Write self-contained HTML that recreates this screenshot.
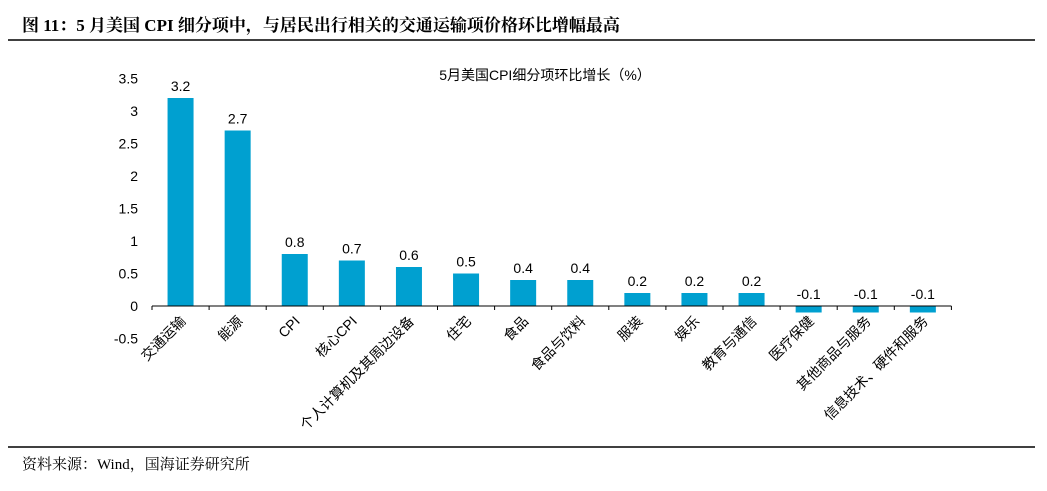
<!DOCTYPE html>
<html><head><meta charset="utf-8"><style>
body{margin:0;background:#fff;width:1047px;height:486px;overflow:hidden}
svg text{font-family:"Liberation Sans","Noto Sans CJK SC",sans-serif}
.serif{font-family:"Liberation Serif","Noto Serif CJK SC",serif}
</style></head><body>
<svg id="chart" width="1047" height="486">
<text class="serif" x="22" y="31" font-size="17" font-weight="bold" fill="#000">图 11：5 月美国 CPI 细分项中，与居民出行相关的交通运输项价格环比增幅最高</text>
<line x1="8" y1="40" x2="1035" y2="40" stroke="#000" stroke-width="1.5"/>
<text x="545" y="80" font-size="14" text-anchor="middle" fill="#000">5月美国CPI细分项环比增长（%）</text>
<g id="yaxis"></g>
<g id="bars"></g>
<line x1="8" y1="447" x2="1035" y2="447" stroke="#000" stroke-width="1.5"/>
<text class="serif" x="22" y="469" font-size="15" fill="#000">资料来源：Wind，国海证券研究所</text>
</svg>
<script>
const categories=["交通运输","能源","CPI","核心CPI","个人计算机及其周边设备","住宅","食品","食品与饮料","服装","娱乐","教育与通信","医疗保健","其他商品与服务","信息技术、硬件和服务"];
const values=[3.2,2.7,0.8,0.7,0.6,0.5,0.4,0.4,0.2,0.2,0.2,-0.1,-0.1,-0.1];
const valueLabels=["3.2","2.7","0.8","0.7","0.6","0.5","0.4","0.4","0.2","0.2","0.2","-0.1","-0.1","-0.1"];
const yTicks=[-0.5,0,0.5,1,1.5,2,2.5,3,3.5];
const yTickLabels=["-0.5","0","0.5","1","1.5","2","2.5","3","3.5"];
const NS="http://www.w3.org/2000/svg";
const y=v=>306-v*65;
const x0=152,step=57.1;
const xc=i=>x0+step*(i+0.5);
const ya=document.getElementById('yaxis'),bg=document.getElementById('bars');
function mk(tag,attrs,parent){const e=document.createElementNS(NS,tag);for(const k in attrs)e.setAttribute(k,attrs[k]);parent.appendChild(e);return e;}
yTicks.forEach((t,i)=>{
 const tx=mk('text',{x:138,y:y(t)+5,'font-size':14,'text-anchor':'end',fill:'#000'},ya);
 
 
 tx.textContent=yTickLabels[i];
});
values.forEach((v,i)=>{
 const top=Math.min(y(v),y(0)),h=Math.abs(y(v)-y(0));
 const r=mk('rect',{x:xc(i)-13,y:top,width:26,height:h,fill:'#00A0D0'},bg);
 
 
 const lt=mk('text',{x:xc(i),y:(v>=0?y(v)-7:y(0)-7),'font-size':14,'text-anchor':'middle',fill:'#000'},bg);
 
 
 lt.textContent=valueLabels[i];
 const cx=xc(i)+6,cy=322;
 const ct=mk('text',{x:cx,y:cy,'font-size':14,'text-anchor':'end',fill:'#000',transform:`rotate(-45 ${cx} ${cy})`},bg);
 
 
 ct.textContent=categories[i];
});
const ax=mk('line',{x1:x0,y1:y(0),x2:x0+step*values.length,y2:y(0),stroke:'#000','stroke-width':1},bg);


for(let i=0;i<=values.length;i++){
 const tk=mk('line',{x1:x0+step*i,y1:y(0),x2:x0+step*i,y2:y(0)+4,stroke:'#000','stroke-width':1},bg);
 
 
}
</script>
</body></html>
